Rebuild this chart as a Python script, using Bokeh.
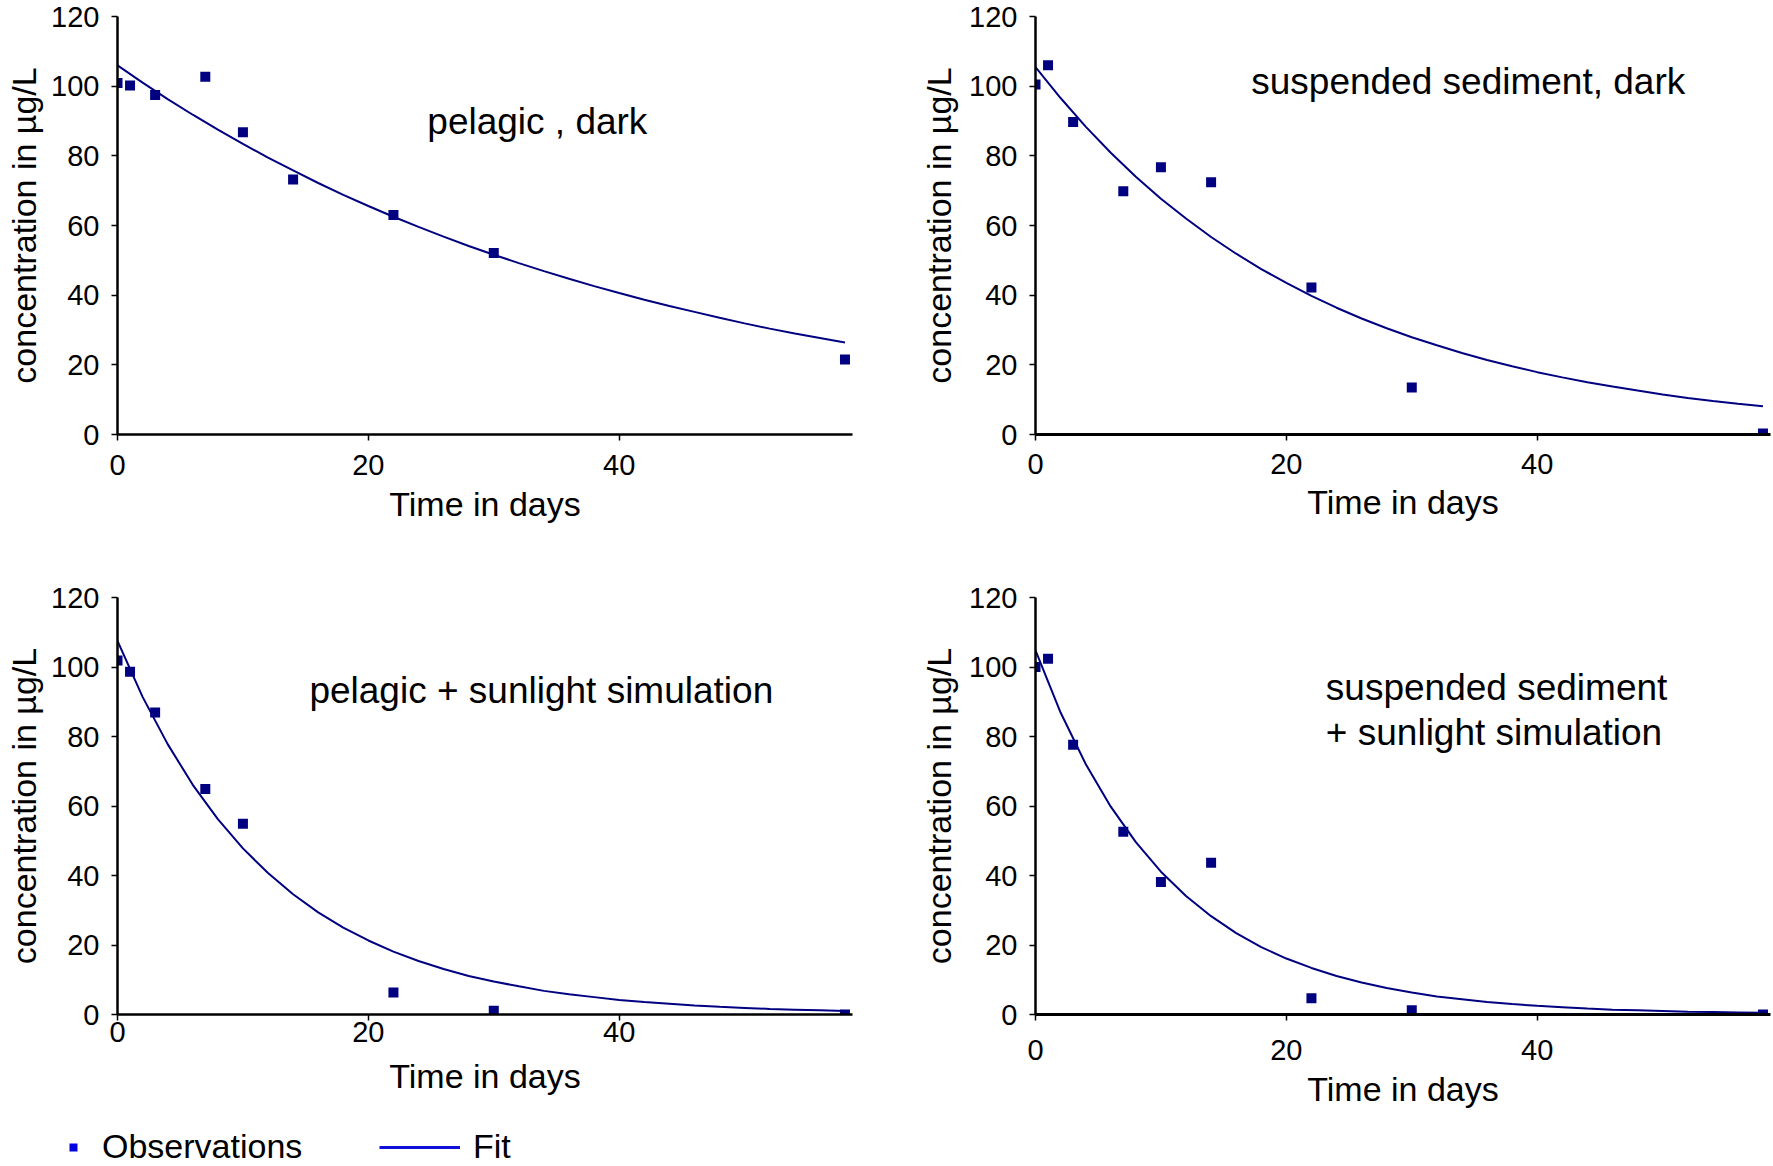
from bokeh.plotting import figure
from bokeh.models import Range1d, FixedTicker, Label, Legend, LegendItem
from bokeh.layouts import column, row
from bokeh.embed import file_html
from bokeh.resources import INLINE

# ---------------- data ----------------
days = [0, 1, 3, 7, 10, 14, 22, 30, 58]
days_pelagic_sun = [0, 1, 3, 7, 10, 22, 30, 58]

obs_pelagic_dark = [100.9, 100.2, 97.5, 102.7, 86.8, 73.2, 63.0, 52.1, 21.5]
obs_sediment_dark = [100.5, 106.0, 89.7, 69.8, 76.7, 72.4, 42.2, 13.5, 0.3]
obs_pelagic_sun = [101.9, 98.6, 86.9, 64.9, 54.9, 6.3, 1.1, 0.0]
obs_sediment_sun = [100.0, 102.4, 77.6, 52.6, 38.1, 43.7, 4.7, 1.2, 0.0]

fit_days = [0, 2, 4, 6, 8, 10, 12, 14, 16, 18, 20, 22, 24, 26, 28, 30,
            32, 34, 36, 38, 40, 42, 44, 46, 48, 50, 52, 54, 56, 58]
fit_pelagic_dark = [106.0, 101.0, 96.3, 91.8, 87.5, 83.4, 79.5, 75.8, 72.2, 68.8,
                    65.6, 62.5, 59.6, 56.8, 54.1, 51.6, 49.2, 46.9, 44.7, 42.6,
                    40.6, 38.7, 36.9, 35.2, 33.5, 31.9, 30.4, 29.0, 27.7, 26.4]
fit_sediment_dark = [105.5, 96.6, 88.4, 80.9, 74.0, 67.7, 62.0, 56.7, 51.9, 47.5,
                     43.5, 39.8, 36.4, 33.3, 30.5, 27.9, 25.6, 23.4, 21.4, 19.6,
                     17.9, 16.4, 15.0, 13.8, 12.6, 11.5, 10.5, 9.6, 8.8, 8.1]
fit_pelagic_sun = [107.5, 91.4, 77.8, 66.1, 56.2, 47.8, 40.7, 34.6, 29.4, 25.0,
                   21.3, 18.1, 15.4, 13.1, 11.1, 9.5, 8.1, 6.8, 5.8, 5.0,
                   4.2, 3.6, 3.1, 2.6, 2.2, 1.9, 1.6, 1.4, 1.2, 1.0]
fit_sediment_sun = [104.8, 86.9, 72.1, 59.8, 49.6, 41.1, 34.1, 28.3, 23.4, 19.4,
                    16.1, 13.4, 11.1, 9.2, 7.6, 6.3, 5.2, 4.4, 3.6, 3.0,
                    2.5, 2.1, 1.7, 1.4, 1.2, 1.0, 0.8, 0.7, 0.6, 0.5]

x_ticks = [0, 20, 40]
y_ticks = [0, 20, 40, 60, 80, 100, 120]

x_label = "Time in days"
y_label = "concentration in µg/L"
legend_labels = ["Observations", "Fit"]

FONT = "Liberation Sans"
NAVY = "#000080"


def make_panel(ox, oy, fy, labels, mbl, fw, mbr, mbt, fh, mbb,
               xstand, xlabstand, ylabstand, xaxis_w):
    p = figure(x_range=Range1d(0, 58.6), y_range=Range1d(0, 120),
               frame_width=fw, frame_height=fh,
               min_border_left=mbl, min_border_right=mbr,
               min_border_top=mbt, min_border_bottom=mbb,
               toolbar_location=None, output_backend="svg",
               x_axis_label=x_label, y_axis_label=y_label)
    p.grid.visible = False
    p.outline_line_color = None
    p.background_fill_color = "white"
    p.border_fill_color = "white"

    p.line(fit_days, fy, line_color=NAVY, line_width=2)
    p.scatter(ox, oy, marker="square", size=10, fill_color=NAVY, line_color=None)

    for ax in (p.xaxis[0], p.yaxis[0]):
        ax.axis_line_color = "black"
        ax.major_tick_line_color = "black"
        ax.major_tick_line_width = 1.5
        ax.major_tick_in = 0
        ax.major_tick_out = 6
        ax.minor_tick_line_color = None
        ax.major_label_text_font = FONT
        ax.major_label_text_font_size = "29px"
        ax.major_label_text_color = "black"
        ax.axis_label_text_font = FONT
        ax.axis_label_text_font_size = "34px"
        ax.axis_label_text_font_style = "normal"
        ax.axis_label_text_color = "black"

    p.xaxis.ticker = FixedTicker(ticks=x_ticks)
    p.yaxis.ticker = FixedTicker(ticks=y_ticks)
    p.xaxis.axis_line_width = xaxis_w
    p.yaxis.axis_line_width = 2.5
    p.xaxis.major_label_standoff = xstand
    p.yaxis.major_label_standoff = 12
    p.xaxis.axis_label_standoff = xlabstand
    p.yaxis.axis_label_standoff = ylabstand

    for (lx, ly, txt) in labels:
        p.add_layout(Label(x=lx, y=ly, text=txt, text_font=FONT,
                           text_font_size="37px", text_color="black",
                           text_baseline="alphabetic", text_align="left"))
    return p


p1 = make_panel(days, obs_pelagic_dark, fit_pelagic_dark,
                [(24.7, 89.8, "pelagic , dark")],
                117, 735, 20, 16, 418, 148, 14, 7, 5, 2.5)
p2 = make_panel(days, obs_sediment_dark, fit_sediment_dark,
                [(17.2, 101.2, "suspended sediment, dark")],
                163, 735, 3, 16, 418, 148, 13, 6, 8, 3)
p3 = make_panel(days_pelagic_sun, obs_pelagic_sun, fit_pelagic_sun,
                [(15.3, 93.2, "pelagic + sunlight simulation")],
                117, 735, 20, 15, 417, 108, 1, 12, 5, 2.5)
p4 = make_panel(days, obs_sediment_sun, fit_sediment_sun,
                [(23.15, 94.05, "suspended sediment"),
                 (23.15, 81.15, "+ sunlight simulation")],
                163, 735, 3, 15, 417, 108, 19, 7, 8, 3)

# ---------------- legend row ----------------
leg = figure(width=700, height=44, x_range=Range1d(-3, -2), y_range=Range1d(-3, -2),
             x_axis_type=None, y_axis_type=None, toolbar_location=None,
             output_backend="svg", min_border=0)
leg.grid.visible = False
leg.outline_line_color = None
r_obs = leg.scatter(days, obs_pelagic_dark, marker="square", size=9,
                    fill_color="#0000e0", line_color=None)
r_fit = leg.line(fit_days, fit_pelagic_dark, line_color="#1010d8", line_width=3)

lg1 = Legend(items=[LegendItem(label=legend_labels[0], renderers=[r_obs])],
             location=(44, 0), glyph_width=58, label_standoff=0)
lg2 = Legend(items=[LegendItem(label=legend_labels[1], renderers=[r_fit])],
             location=(379, 0), glyph_width=81, label_standoff=13)
for lg in (lg1, lg2):
    lg.label_text_font = FONT
    lg.label_text_font_size = "34px"
    lg.label_text_color = "black"
    lg.background_fill_alpha = 0
    lg.border_line_alpha = 0
    lg.padding = 0
    lg.margin = 0
    lg.spacing = 0
    leg.add_layout(lg, "center")

layout = column(row(p1, p2), row(p3, p4), leg)

html = file_html(layout, INLINE)
with open("out.html", "w", encoding="utf-8") as f:
    f.write(html)
